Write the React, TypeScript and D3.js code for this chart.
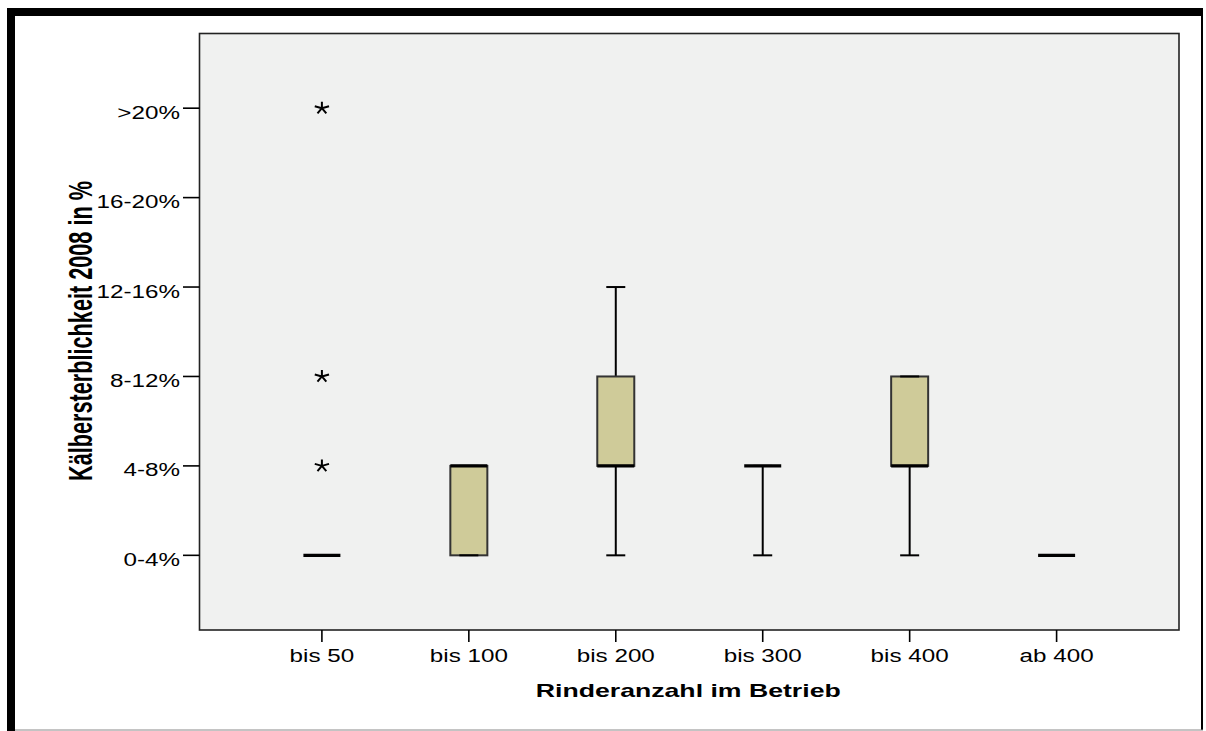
import React from "react";
import * as d3 from "d3";

// categories and box statistics (category index on y: 0 = "0-4%" ... 5 = ">20%")
const categories = ["bis 50", "bis 100", "bis 200", "bis 300", "bis 400", "ab 400"];
const yTickLabels = ["0-4%", "4-8%", "8-12%", "12-16%", "16-20%", ">20%"];
const q1 = [0, 0, 1, 1, 1, 0];
const median = [0, 1, 1, 1, 1, 0];
const q3 = [0, 1, 2, 1, 2, 0];
const whiskerLow = [0, 0, 0, 0, 0, 0];
const whiskerHigh = [0, 1, 3, 1, 2, 0];
const extremeCats = ["bis 50", "bis 50", "bis 50"];
const extremeValues = [1, 2, 5];

const W = 1206;
const H = 731;
const plot = { left: 199.5, right: 1179, top: 33.5, bottom: 630 };
const FONT = "'Liberation Sans', Arial, Helvetica, sans-serif";
const SX = 1.31; // horizontal stretch of the original picture

const App = () => {
  const x = d3
    .scalePoint<string>()
    .domain(categories)
    .range([plot.left, plot.right])
    .padding(0.833);

  const y = d3.scaleLinear().domain([-0.835, 5.835]).range([plot.bottom, plot.top]);

  const boxHalf = 18.5;
  const capHalf = 9.5;

  const asterisk = (cx: number, cy: number) => {
    const p = d3.path();
    for (let k = 0; k < 5; k++) {
      const a = -Math.PI / 2 + (k * 2 * Math.PI) / 5;
      p.moveTo(cx, cy);
      p.lineTo(cx + Math.cos(a) * 7.5, cy + Math.sin(a) * 6.5);
    }
    return p.toString();
  };

  return (
    <svg
      width={W}
      height={H}
      style={{ position: "absolute", left: 0, top: 0, background: "#fff" }}
      fontFamily={FONT}
    >
      {/* outer frame */}
      <rect x={7} y={8} width={1196} height={8} fill="#000" />
      <rect x={7} y={8} width={8} height={723} fill="#000" />
      <rect x={1201} y={8} width={2} height={722} fill="#000" />
      <line x1={15} x2={1203} y1={730} y2={730} stroke="#888" strokeWidth={1} />

      {/* plot area */}
      <rect
        x={plot.left}
        y={plot.top}
        width={plot.right - plot.left}
        height={plot.bottom - plot.top}
        fill="#f0f1f0"
        stroke="#222"
        strokeWidth={1.6}
      />

      {/* y axis ticks */}
      {yTickLabels.map((lab, i) => (
        <g key={lab}>
          <line x1={183} x2={plot.left} y1={y(i)} y2={y(i)} stroke="#000" strokeWidth={1.6} />
          <text
            transform={`translate(180, ${y(i) + 10.5}) scale(${SX},1)`}
            textAnchor="end"
            fontSize={18.5}
            fill="#000"
          >
            {lab}
          </text>
        </g>
      ))}

      {/* x axis ticks */}
      {categories.map((c) => (
        <g key={c}>
          <line x1={x(c)} x2={x(c)} y1={plot.bottom} y2={642} stroke="#000" strokeWidth={1.6} />
          <text
            transform={`translate(${x(c)}, 662) scale(${SX},1)`}
            textAnchor="middle"
            fontSize={18.5}
            fill="#000"
          >
            {c}
          </text>
        </g>
      ))}

      {/* boxes */}
      {categories.map((c, i) => {
        const cx = x(c) as number;
        return (
          <g key={c}>
            {whiskerHigh[i] > q3[i] && (
              <line x1={cx} x2={cx} y1={y(q3[i])} y2={y(whiskerHigh[i])} stroke="#000" strokeWidth={2} />
            )}
            {whiskerLow[i] < q1[i] && (
              <line x1={cx} x2={cx} y1={y(q1[i])} y2={y(whiskerLow[i])} stroke="#000" strokeWidth={2} />
            )}
            {q3[i] > q1[i] && (
              <rect
                x={cx - boxHalf}
                y={y(q3[i])}
                width={boxHalf * 2}
                height={y(q1[i]) - y(q3[i])}
                fill="#cfcb99"
                stroke="#333"
                strokeWidth={2}
              />
            )}
            <line
              x1={cx - capHalf}
              x2={cx + capHalf}
              y1={y(whiskerHigh[i])}
              y2={y(whiskerHigh[i])}
              stroke="#000"
              strokeWidth={2}
            />
            <line
              x1={cx - capHalf}
              x2={cx + capHalf}
              y1={y(whiskerLow[i])}
              y2={y(whiskerLow[i])}
              stroke="#000"
              strokeWidth={2}
            />
            <line
              x1={cx - boxHalf}
              x2={cx + boxHalf}
              y1={y(median[i])}
              y2={y(median[i])}
              stroke="#000"
              strokeWidth={3.3}
            />
          </g>
        );
      })}

      {/* extreme values */}
      {extremeValues.map((v, k) => (
        <path
          key={k}
          d={asterisk(x(extremeCats[k]) as number, y(v))}
          stroke="#000"
          strokeWidth={2}
          fill="none"
        />
      ))}

      {/* axis titles */}
      <text
        x={(plot.left + plot.right) / 2 - 1}
        y={697}
        textAnchor="middle"
        fontSize={19}
        fontWeight="bold"
        textLength={305}
        lengthAdjust="spacingAndGlyphs"
        fill="#000"
      >
        Rinderanzahl im Betrieb
      </text>
      <text
        transform={`translate(92, 331) scale(1.6,1) rotate(-90)`}
        textAnchor="middle"
        fontSize={21}
        fontWeight="bold"
        textLength={300}
        lengthAdjust="spacingAndGlyphs"
        fill="#000"
      >
        Kälbersterblichkeit 2008 in %
      </text>
    </svg>
  );
};

export default App;
